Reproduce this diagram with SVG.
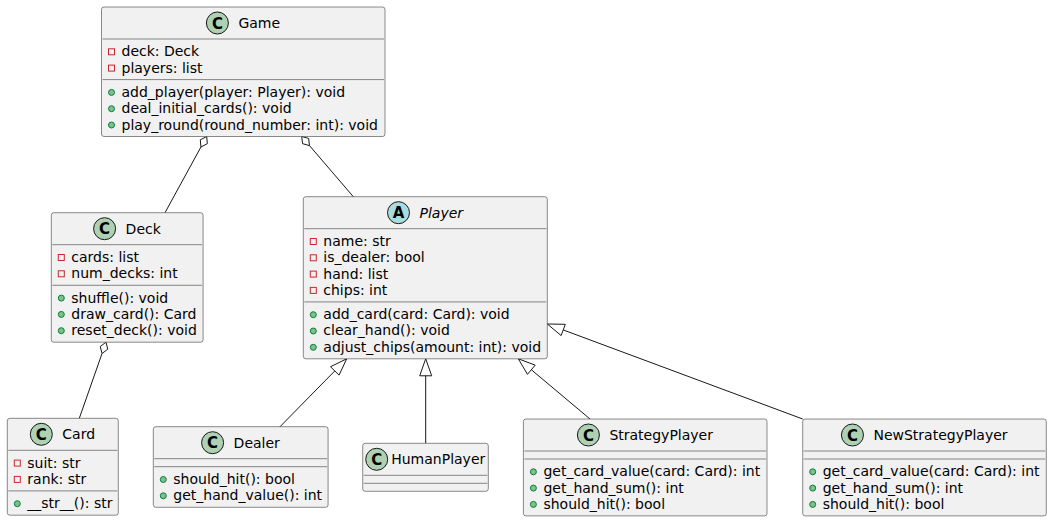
<svg xmlns="http://www.w3.org/2000/svg" width="1052" height="521" viewBox="0 0 1052 521">
<style>
.bg{fill:#FFFFFF}
.box{fill:#F1F1F1;stroke:#181818;stroke-width:0.5}
.sep{stroke:#181818;stroke-width:0.5}
.t{font-family:"DejaVu Sans",Verdana,sans-serif;font-size:14px;fill:#000000}
.it{font-style:italic}
.ci{fill:#ADD1B2;stroke:#181818;stroke-width:1}
.ai{fill:#A9DCDF;stroke:#181818;stroke-width:1}
.g{font-family:"DejaVu Sans",sans-serif;font-weight:bold;font-size:15px;text-anchor:middle;fill:#000000}
.pv{fill:none;stroke:#C82930;stroke-width:1}
.pb{fill:#84BE84;stroke:#038048;stroke-width:1}
.e{stroke:#181818;stroke-width:1;fill:none}
.h{fill:#FFFFFF;stroke:#181818;stroke-width:1}
</style>
<rect class="bg" x="0" y="0" width="1052" height="521"/>

<g id="edges">
  <polygon class="h" points="206.7,136.5 207.32,143.68 200.93,147.02 200.30,139.84"/>
  <line class="e" x1="200.93" y1="147.02" x2="165" y2="212.7"/>
  <polygon class="h" points="301.7,136.5 308.64,138.45 309.51,145.61 302.57,143.66"/>
  <line class="e" x1="309.51" y1="145.61" x2="353.3" y2="196.7"/>
  <polygon class="h" points="106,342.2 107.79,349.19 102.03,353.52 100.24,346.54"/>
  <line class="e" x1="102.03" y1="353.52" x2="79.3" y2="418.3"/>
  <polygon class="h" points="346.7,358.8 339.07,375.13 330.51,366.73"/>
  <line class="e" x1="334.79" y1="370.93" x2="280" y2="426.7"/>
  <polygon class="h" points="425.7,358.8 431.7,375.8 419.7,375.8"/>
  <line class="e" x1="425.7" y1="375.8" x2="425.7" y2="443.3"/>
  <polygon class="h" points="518.3,358.8 535.18,365.14 527.46,374.33"/>
  <line class="e" x1="531.32" y1="369.73" x2="590" y2="419"/>
  <polygon class="h" points="547.3,324 565.32,324.31 561.14,335.55"/>
  <line class="e" x1="563.23" y1="329.93" x2="802.7" y2="419"/>
</g>

<g id="Game" transform="translate(101.5,7)">
  <rect class="box" x="0" y="0" width="283.5" height="129.5" rx="2.5" ry="2.5"/>
  <circle class="ci" cx="115.9" cy="16" r="11"/>
  <text class="g" x="115.9" y="21.5">C</text>
  <text class="t" x="136.9" y="21">Game</text>
  <line class="sep" x1="1" y1="32" x2="282.5" y2="32"/>
  <rect class="pv" x="7" y="41.8" width="6" height="6"/>
  <text class="t" x="20" y="49.3">deck: Deck</text>
  <rect class="pv" x="7" y="58.1" width="6" height="6"/>
  <text class="t" x="20" y="65.6">players: list</text>
  <line class="sep" x1="1" y1="72.6" x2="282.5" y2="72.6"/>
  <circle class="pb" cx="10" cy="85.4" r="3"/>
  <text class="t" x="20" y="89.9">add_player(player: Player): void</text>
  <circle class="pb" cx="10" cy="101.7" r="3"/>
  <text class="t" x="20" y="106.2">deal_initial_cards(): void</text>
  <circle class="pb" cx="10" cy="118" r="3"/>
  <text class="t" x="20" y="122.5">play_round(round_number: int): void</text>
</g>

<g id="Player" transform="translate(303.3,196.7)">
  <rect class="box" x="0" y="0" width="244" height="162.1" rx="2.5" ry="2.5"/>
  <circle class="ai" cx="95.2" cy="16" r="11"/>
  <text class="g" x="95.2" y="21.5">A</text>
  <text class="t it" x="116.2" y="21">Player</text>
  <line class="sep" x1="1" y1="32" x2="243" y2="32"/>
  <rect class="pv" x="7" y="41.8" width="6" height="6"/>
  <text class="t" x="20" y="49.3">name: str</text>
  <rect class="pv" x="7" y="58.1" width="6" height="6"/>
  <text class="t" x="20" y="65.6">is_dealer: bool</text>
  <rect class="pv" x="7" y="74.4" width="6" height="6"/>
  <text class="t" x="20" y="81.9">hand: list</text>
  <rect class="pv" x="7" y="90.7" width="6" height="6"/>
  <text class="t" x="20" y="98.2">chips: int</text>
  <line class="sep" x1="1" y1="105.2" x2="243" y2="105.2"/>
  <circle class="pb" cx="10" cy="118" r="3"/>
  <text class="t" x="20" y="122.5">add_card(card: Card): void</text>
  <circle class="pb" cx="10" cy="134.3" r="3"/>
  <text class="t" x="20" y="138.8">clear_hand(): void</text>
  <circle class="pb" cx="10" cy="150.6" r="3"/>
  <text class="t" x="20" y="155.1">adjust_chips(amount: int): void</text>
</g>

<g id="Deck" transform="translate(51.3,212.7)">
  <rect class="box" x="0" y="0" width="151.8" height="129.5" rx="2.5" ry="2.5"/>
  <circle class="ci" cx="53.3" cy="16" r="11"/>
  <text class="g" x="53.3" y="21.5">C</text>
  <text class="t" x="74.3" y="21">Deck</text>
  <line class="sep" x1="1" y1="32" x2="150.8" y2="32"/>
  <rect class="pv" x="7" y="41.8" width="6" height="6"/>
  <text class="t" x="20" y="49.3">cards: list</text>
  <rect class="pv" x="7" y="58.1" width="6" height="6"/>
  <text class="t" x="20" y="65.6">num_decks: int</text>
  <line class="sep" x1="1" y1="72.6" x2="150.8" y2="72.6"/>
  <circle class="pb" cx="10" cy="85.4" r="3"/>
  <text class="t" x="20" y="89.9">shuffle(): void</text>
  <circle class="pb" cx="10" cy="101.7" r="3"/>
  <text class="t" x="20" y="106.2">draw_card(): Card</text>
  <circle class="pb" cx="10" cy="118" r="3"/>
  <text class="t" x="20" y="122.5">reset_deck(): void</text>
</g>

<g id="Card" transform="translate(7.3,418.3)">
  <rect class="box" x="0" y="0" width="111" height="96.9" rx="2.5" ry="2.5"/>
  <circle class="ci" cx="34" cy="16" r="11"/>
  <text class="g" x="34" y="21.5">C</text>
  <text class="t" x="55" y="21">Card</text>
  <line class="sep" x1="1" y1="32" x2="110" y2="32"/>
  <rect class="pv" x="7" y="41.8" width="6" height="6"/>
  <text class="t" x="20" y="49.3">suit: str</text>
  <rect class="pv" x="7" y="58.1" width="6" height="6"/>
  <text class="t" x="20" y="65.6">rank: str</text>
  <line class="sep" x1="1" y1="72.6" x2="110" y2="72.6"/>
  <circle class="pb" cx="10" cy="85.4" r="3"/>
  <text class="t" x="20" y="89.9">__str__(): str</text>
</g>

<g id="Dealer" transform="translate(153.3,426.7)">
  <rect class="box" x="0" y="0" width="174.8" height="80.6" rx="2.5" ry="2.5"/>
  <circle class="ci" cx="59.3" cy="16" r="11"/>
  <text class="g" x="59.3" y="21.5">C</text>
  <text class="t" x="80.3" y="21">Dealer</text>
  <line class="sep" x1="1" y1="32" x2="173.8" y2="32"/>
  <line class="sep" x1="1" y1="40" x2="173.8" y2="40"/>
  <circle class="pb" cx="10" cy="52.8" r="3"/>
  <text class="t" x="20" y="57.3">should_hit(): bool</text>
  <circle class="pb" cx="10" cy="69.1" r="3"/>
  <text class="t" x="20" y="73.6">get_hand_value(): int</text>
</g>

<g id="HumanPlayer" transform="translate(362.7,443.3)">
  <rect class="box" x="0" y="0" width="125.6" height="48" rx="2.5" ry="2.5"/>
  <circle class="ci" cx="14" cy="16" r="11"/>
  <text class="g" x="14" y="21.5">C</text>
  <text class="t" x="28.5" y="21">HumanPlayer</text>
  <line class="sep" x1="1" y1="32" x2="124.6" y2="32"/>
  <line class="sep" x1="1" y1="40" x2="124.6" y2="40"/>
</g>

<g id="StrategyPlayer" transform="translate(523.4,419)">
  <rect class="box" x="0" y="0" width="243.6" height="96.9" rx="2.5" ry="2.5"/>
  <circle class="ci" cx="65" cy="16" r="11"/>
  <text class="g" x="65" y="21.5">C</text>
  <text class="t" x="86" y="21">StrategyPlayer</text>
  <line class="sep" x1="1" y1="32" x2="242.6" y2="32"/>
  <line class="sep" x1="1" y1="40" x2="242.6" y2="40"/>
  <circle class="pb" cx="10" cy="52.8" r="3"/>
  <text class="t" x="20" y="57.3">get_card_value(card: Card): int</text>
  <circle class="pb" cx="10" cy="69.1" r="3"/>
  <text class="t" x="20" y="73.6">get_hand_sum(): int</text>
  <circle class="pb" cx="10" cy="85.4" r="3"/>
  <text class="t" x="20" y="89.9">should_hit(): bool</text>
</g>

<g id="NewStrategyPlayer" transform="translate(802.7,419)">
  <rect class="box" x="0" y="0" width="243.6" height="96.9" rx="2.5" ry="2.5"/>
  <circle class="ci" cx="49.75" cy="16" r="11"/>
  <text class="g" x="49.75" y="21.5">C</text>
  <text class="t" x="70.75" y="21">NewStrategyPlayer</text>
  <line class="sep" x1="1" y1="32" x2="242.6" y2="32"/>
  <line class="sep" x1="1" y1="40" x2="242.6" y2="40"/>
  <circle class="pb" cx="10" cy="52.8" r="3"/>
  <text class="t" x="20" y="57.3">get_card_value(card: Card): int</text>
  <circle class="pb" cx="10" cy="69.1" r="3"/>
  <text class="t" x="20" y="73.6">get_hand_sum(): int</text>
  <circle class="pb" cx="10" cy="85.4" r="3"/>
  <text class="t" x="20" y="89.9">should_hit(): bool</text>
</g>
</svg>
